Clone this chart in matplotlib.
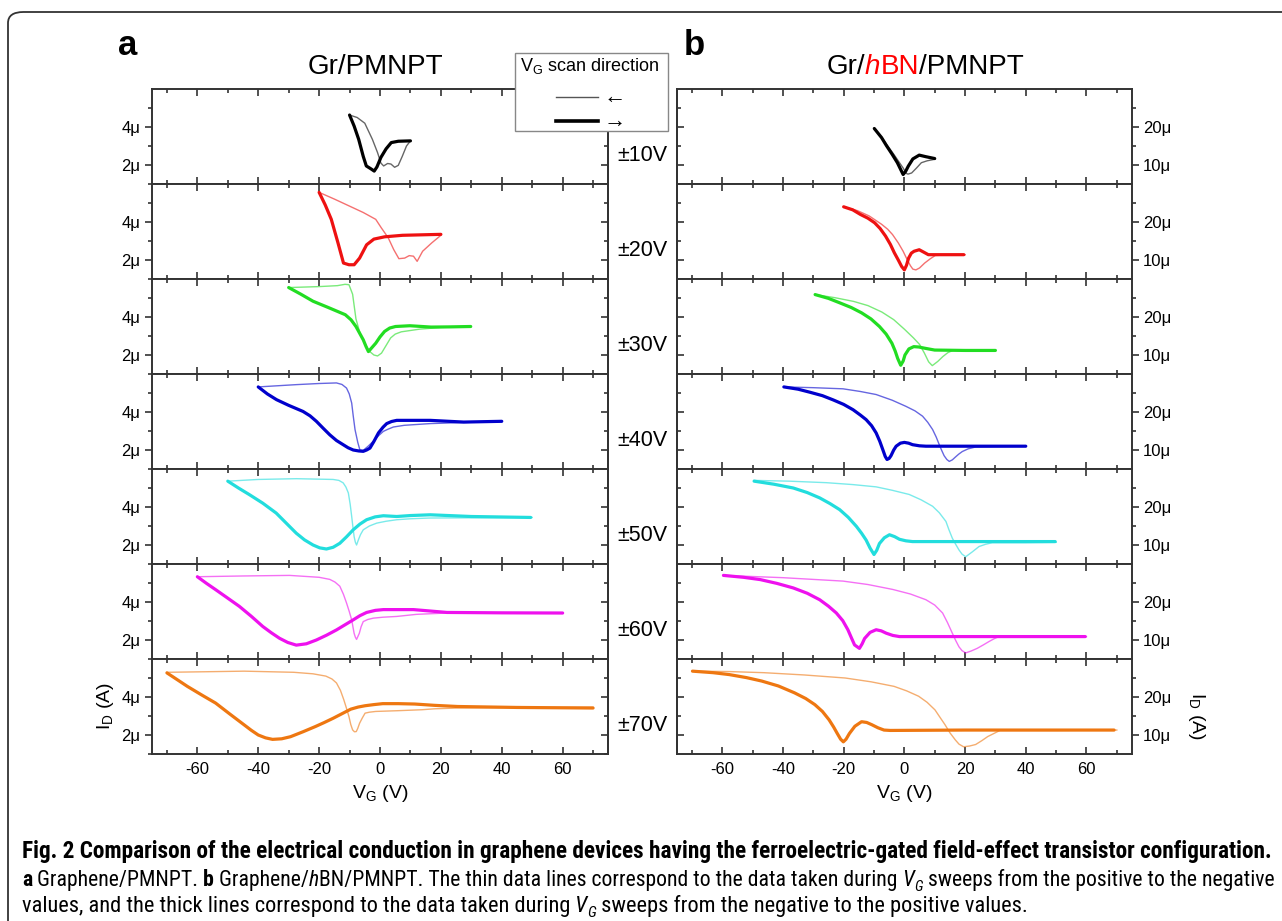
import matplotlib
matplotlib.use('Agg')
import matplotlib.pyplot as plt
from matplotlib import font_manager as fm
from matplotlib.patches import FancyBboxPatch, Rectangle
from matplotlib.lines import Line2D
from matplotlib.ticker import FixedLocator, FuncFormatter

# ---------------- data (V_G in V, I_D in microamps) ----------------
sweep_labels = ['±10V', '±20V', '±30V', '±40V', '±50V', '±60V', '±70V']
sweep_colors = ['#000000', '#ee1111', '#22dd22', '#0000cc', '#22dddd', '#ee11ee', '#ee7711']
x_ticks = [-60, -40, -20, 0, 20, 40, 60]
a_yticks = [2, 4]
b_yticks = [10, 20]

# panel a : Gr/PMNPT  (fwd = thick, negative->positive ; bwd = thin, positive->negative)
a10_fwd = [(-10, 4.63), (-8.5, 4.05), (-7, 3.35), (-5.5, 2.45), (-4.5, 1.95), (-3, 1.8), (-1.9, 1.68), (-1, 1.9),
           (0.3, 2.4), (2, 2.85), (3.7, 3.18), (6, 3.25), (10, 3.27)]
a10_bwd = [(10, 3.27), (8.7, 3.0), (7.3, 2.45), (6, 1.98), (4.8, 1.88), (3.6, 2.05), (2.5, 2.08), (1.2, 1.95),
           (0.3, 2.1), (-0.8, 2.65), (-2.5, 3.35), (-5, 4.2), (-7.5, 4.5), (-10, 4.63)]
a20_fwd = [(-20, 5.56), (-18, 4.9), (-16, 4.14), (-13.8, 2.9), (-12, 1.84), (-10.2, 1.75), (-8.5, 1.75), (-6.7, 2.1),
           (-4.4, 2.8), (-2, 3.1), (1.5, 3.22), (7.4, 3.3), (20, 3.35)]
a20_bwd = [(20, 3.3), (17, 2.9), (14, 2.46), (12.2, 1.93), (11, 2.2), (9.6, 2.23), (8.1, 2.1), (6.2, 2.07), (4.5, 2.55),
           (2.7, 3.17), (0.4, 3.7), (-1.4, 4.14), (-5.5, 4.5), (-10.2, 4.85), (-14.9, 5.2), (-20, 5.56)]
a30_fwd = [(-30, 5.55), (-26, 5.2), (-22, 4.83), (-17, 4.5), (-11.4, 4.12), (-9.5, 3.85), (-7.9, 3.5), (-6.7, 3.15),
           (-5.5, 2.8), (-4.6, 2.45), (-3.8, 2.18), (-2.6, 2.4), (-1.4, 2.62), (0, 2.95), (1.5, 3.24), (3.2, 3.42),
           (5.1, 3.5), (9.8, 3.54), (16.8, 3.47), (23, 3.48), (29.8, 3.5)]
a30_bwd = [(30, 3.5), (20, 3.45), (13, 3.36), (7, 3.22), (5, 3.1), (3.5, 2.9), (2, 2.5), (0.5, 2.1), (-0.8, 1.95),
           (-2, 2.0), (-3.5, 2.2), (-5, 2.6), (-6.5, 3.1), (-7.9, 3.9), (-9, 5.2), (-10.2, 5.7), (-11.5, 5.72),
           (-14, 5.65), (-20, 5.6), (-30, 5.55)]
a40_fwd = [(-40, 5.32), (-37, 4.95), (-34, 4.65), (-30, 4.35), (-25.3, 4.03), (-23, 3.8), (-20.9, 3.51), (-18.7, 3.15),
           (-16.5, 2.8), (-14.3, 2.5), (-12.1, 2.28), (-10.5, 2.12), (-8.8, 2.0), (-7, 1.95), (-5.5, 1.93), (-4.4, 2.0),
           (-3.3, 2.1), (-2, 2.45), (-0.5, 2.9), (1, 3.2), (2.2, 3.39), (3.8, 3.5), (5.5, 3.56), (16.5, 3.56),
           (27.5, 3.47), (40, 3.51)]
a40_bwd = [(40, 3.5), (28, 3.45), (16.5, 3.39), (8, 3.3), (4.4, 3.21), (2.7, 3.1), (1.1, 2.98), (-0.5, 2.75),
           (-2.2, 2.46), (-3.9, 2.2), (-5.5, 1.98), (-6.6, 2.0), (-7.3, 2.4), (-8.2, 3.07), (-8.8, 3.8), (-9.3, 4.47),
           (-10.1, 4.95), (-11, 5.26), (-12.5, 5.45), (-14.3, 5.53), (-20, 5.5), (-27.5, 5.44), (-40, 5.32)]
a50_fwd = [(-50, 5.36), (-46.5, 5.0), (-42.9, 4.65), (-38.5, 4.2), (-34.1, 3.68), (-30.8, 3.15), (-27.5, 2.62),
           (-24.8, 2.27), (-22, 2.0), (-19.8, 1.85), (-17.6, 1.79), (-15.4, 1.88), (-13.2, 2.09), (-11, 2.43),
           (-8.8, 2.8), (-6.6, 3.1), (-4.4, 3.33), (-1.6, 3.48), (1.1, 3.54), (5.5, 3.5), (10, 3.55), (16.5, 3.59),
           (30, 3.5), (49.5, 3.45)]
a50_bwd = [(50, 3.45), (30, 3.43), (16.5, 3.42), (10, 3.38), (5.5, 3.33), (2, 3.25), (-1.1, 3.15), (-3.5, 3.0),
           (-5.5, 2.8), (-6.4, 2.55), (-7.1, 2.27), (-7.7, 2.0), (-8.1, 2.15), (-8.5, 2.44), (-8.9, 2.95), (-9.3, 3.5),
           (-9.8, 4.15), (-10.4, 4.74), (-11.2, 5.05), (-12.1, 5.27), (-13.5, 5.4), (-15.4, 5.45), (-27.5, 5.49),
           (-40, 5.45), (-50, 5.36)]
a60_fwd = [(-60, 5.33), (-57, 4.98), (-54, 4.65), (-50, 4.2), (-46.2, 3.77), (-42.3, 3.25), (-38.5, 2.71),
           (-35.7, 2.38), (-33, 2.09), (-30.3, 1.87), (-27.5, 1.73), (-24.2, 1.8), (-20.9, 2.0), (-17.6, 2.25),
           (-14.3, 2.53), (-11.5, 2.8), (-8.8, 3.06), (-6.6, 3.28), (-4.4, 3.45), (-1.5, 3.56), (1.1, 3.6), (11, 3.6),
           (22, 3.45), (40, 3.43), (60, 3.42)]
a60_bwd = [(60, 3.42), (40, 3.42), (22, 3.42), (12, 3.35), (5.5, 3.24), (1, 3.2), (-2.2, 3.15), (-4, 3.08),
           (-5.5, 2.97), (-6.2, 2.7), (-6.8, 2.35), (-7.7, 2.03), (-8.1, 2.15), (-8.5, 2.35), (-8.9, 2.7), (-9.3, 3.06),
           (-10.1, 3.5), (-11, 3.95), (-12, 4.4), (-13.2, 4.83), (-14.8, 5.05), (-16.5, 5.19), (-20, 5.3),
           (-29.7, 5.4), (-45, 5.37), (-60, 5.33)]
a70_fwd = [(-70, 5.27), (-66.5, 4.9), (-63.3, 4.56), (-58.5, 4.1), (-54, 3.68), (-49.3, 3.1), (-44.6, 2.53),
           (-42.3, 2.25), (-40, 2.0), (-37.6, 1.85), (-35.3, 1.77), (-32.3, 1.8), (-29.4, 1.91), (-25.3, 2.17),
           (-21.3, 2.44), (-18.4, 2.65), (-15.4, 2.88), (-12.5, 3.12), (-9.6, 3.36), (-7.2, 3.47), (-4.9, 3.54),
           (-2, 3.6), (0.9, 3.65), (6, 3.65), (11.4, 3.63), (18, 3.56), (25.5, 3.5), (45, 3.45), (70, 3.42)]
a70_bwd = [(70, 3.46), (45, 3.44), (25.5, 3.42), (18, 3.38), (13.8, 3.33), (6, 3.28), (-1.4, 3.24), (-3.5, 3.2),
           (-4.9, 3.15), (-5.8, 2.9), (-6.7, 2.62), (-7.3, 2.35), (-7.8, 2.18), (-8.4, 2.17), (-9, 2.27), (-9.6, 2.55),
           (-10.2, 2.97), (-11, 3.4), (-11.9, 3.86), (-13, 4.35), (-14.3, 4.74), (-15.8, 4.95), (-17.8, 5.1),
           (-22, 5.22), (-28.3, 5.3), (-44.6, 5.36), (-57, 5.33), (-70, 5.3)]

# panel b : Gr/hBN/PMNPT
b10_fwd = [(-9.9, 19.6), (-7.5, 17.2), (-5.9, 15.1), (-4, 12.8), (-2.3, 10.6), (-1.2, 8.8), (-0.4, 7.5), (0.4, 8.3),
           (1.3, 9.7), (2.8, 11.6), (4.9, 12.6), (7, 12.2), (10, 11.7)]
b10_bwd = [(10, 11.5), (7.5, 11.1), (5.6, 10.6), (4, 9.2), (2.4, 7.9), (1.2, 7.6), (0.6, 7.8), (-0.4, 9.2),
           (-1.6, 10.6), (-3.3, 12.6), (-5.1, 14.6), (-7.5, 17.3), (-9.9, 19.6)]
b20_fwd = [(-20, 24), (-17, 23.2), (-14.5, 22), (-12, 21), (-9.8, 19.8), (-8, 18.3), (-6.2, 16.3), (-4.6, 14.1),
           (-3.3, 11.9), (-2, 10), (-0.9, 8.3), (0, 7.4), (0.7, 8.6), (1.4, 10.5), (2.3, 11.8), (3.2, 12.3),
           (4.9, 12.7), (6.3, 12.1), (7.9, 11.4), (12, 11.4), (19.6, 11.4)]
b20_bwd = [(20, 11.4), (14, 11.3), (10.2, 11.2), (8.5, 10.3), (6.7, 9.2), (5, 7.9), (3.8, 7.4), (2.8, 7.6), (2, 8.5),
           (0.8, 10.3), (-0.4, 12.3), (-2, 14.5), (-3.9, 16.7), (-5.5, 18.1), (-7.5, 19.4), (-11.6, 21.6),
           (-15.5, 23), (-20, 24)]
b30_fwd = [(-29.4, 25.9), (-25, 24.9), (-21.2, 23.7), (-17.5, 22.5), (-14.1, 21.1), (-11, 19.5), (-8.2, 17.5),
           (-6, 15.5), (-4.1, 13.1), (-3, 11), (-2.2, 9.1), (-1.2, 7.3), (-0.4, 8.4), (0.2, 10), (1.5, 11.6),
           (3.1, 12.2), (4.8, 12.1), (6.6, 11.8), (10, 11.3), (20, 11.2), (30, 11.2)]
b30_bwd = [(30, 11.4), (22, 11.3), (16.2, 11.3), (14.3, 10.6), (12.7, 9.6), (11, 8.3), (9.2, 7.2), (8, 8.2),
           (6.6, 10.5), (5, 12.8), (3, 14.5), (0, 16.8), (-3.5, 19.3), (-7.4, 21.3), (-12, 23), (-16.7, 24.1),
           (-23, 25.1), (-29.4, 25.9)]
b40_fwd = [(-39.7, 26.6), (-35, 26), (-31.1, 25.2), (-27, 24.3), (-23.5, 23.2), (-20, 22), (-16.9, 20.6),
           (-14.5, 19.2), (-12.6, 18.0), (-10.8, 16.4), (-9.3, 14.5), (-8.1, 12.3), (-7.1, 10.1), (-6.3, 8.3),
           (-5.7, 7.5), (-5, 7.8), (-4.4, 8.5), (-3.5, 10), (-2.7, 11.0), (-1.3, 11.8), (0, 12.0), (1.4, 11.8),
           (2.7, 11.4), (5, 11.1), (7.1, 11.0), (20, 11.0), (40, 11.0)]
b40_bwd = [(40, 11.0), (30, 10.9), (23.5, 10.8), (21, 10.3), (19.1, 9.6), (17.9, 8.9), (16.9, 8.2), (15.8, 7.4),
           (14.8, 7.0), (14, 7.5), (13.1, 8.5), (12.3, 9.9), (11.5, 11.4), (10.5, 13.4), (9.3, 15.4), (7.7, 17.3),
           (6, 18.9), (3.5, 20.3), (0.5, 21.5), (-4, 23.1), (-9.3, 24.6), (-14.5, 25.4), (-20.2, 26.1), (-30, 26.4),
           (-39.7, 26.6)]
b50_fwd = [(-49.5, 26.8), (-43, 26), (-36.6, 25.0), (-32, 23.8), (-27.9, 22.4), (-24.5, 20.9), (-21.3, 19.3),
           (-18.5, 17.3), (-15.8, 14.9), (-14.1, 13.1), (-12.6, 11.3), (-11.3, 9.2), (-10, 7.5), (-9.1, 8.6),
           (-8.2, 10.4), (-6.6, 11.9), (-4.9, 12.7), (-3.2, 12.2), (-1.6, 11.5), (0.5, 11.1), (2.7, 10.9), (20, 10.9),
           (49.7, 10.9)]
b50_bwd = [(50, 10.7), (40, 10.6), (29, 10.6), (26.8, 10.2), (24.6, 9.6), (22.4, 8.2), (20.2, 6.9), (19, 7.6),
           (18, 8.7), (16.9, 10.2), (15.8, 11.8), (14.7, 14), (13.7, 16.2), (11.5, 18.5), (9.3, 20.2), (5.5, 21.9),
           (1.6, 23.3), (-4, 24.4), (-9.3, 25.3), (-17, 25.9), (-25.7, 26.4), (-38, 26.8), (-49.5, 27.0)]
b60_fwd = [(-59.6, 27.0), (-53, 26.5), (-47.5, 25.9), (-42, 24.9), (-36.6, 23.7), (-32, 22.3), (-27.9, 20.6),
           (-25, 18.9), (-22.4, 17.1), (-20.3, 15.1), (-18.6, 12.7), (-17.4, 10.5), (-16.4, 8.7), (-14.8, 7.8),
           (-13.9, 9), (-13.1, 10.4), (-11.3, 12), (-9.3, 12.7), (-7.6, 12.4), (-6, 11.8), (-3.8, 11.2), (-1.6, 10.9),
           (20, 10.9), (59.6, 10.9)]
b60_bwd = [(60, 10.9), (45, 10.9), (31.1, 10.9), (29.5, 10.3), (27.9, 9.6), (26, 8.7), (24, 7.8), (22, 7.1),
           (20.2, 6.6), (19, 7.2), (18, 8.2), (16.9, 9.9), (15.8, 11.8), (14.2, 14.6), (12.6, 17.1), (10, 19.2),
           (7.1, 20.6), (2, 22.1), (-3.8, 23.3), (-12, 24.6), (-20.2, 25.5), (-40, 26.4), (-59.6, 27.0)]
b70_fwd = [(-69.8, 26.8), (-63, 26.4), (-57.7, 25.9), (-52, 25.1), (-47, 24.2), (-41.5, 22.9), (-36.2, 21.1),
           (-32.5, 19.6), (-29.5, 18), (-27, 16.2), (-24.8, 14), (-23.3, 12.1), (-22.1, 10.4), (-21, 8.9),
           (-20.1, 8.2), (-19.2, 8.9), (-18.1, 10.4), (-16.3, 12.3), (-14.1, 13.5), (-12.4, 13.3), (-10.7, 12.7),
           (-8.7, 11.9), (-6.7, 11.3), (-4.7, 11.2), (20, 11.3), (69.1, 11.3)]
b70_bwd = [(70, 11.3), (50, 11.2), (31.5, 11.2), (29.5, 10.4), (27.5, 9.6), (25.5, 8.5), (23.5, 7.5), (21.5, 7.1),
           (19.5, 6.9), (18, 7.6), (16.8, 8.7), (15, 10.6), (13.4, 12.7), (11.7, 14.7), (10.1, 16.6), (7.5, 18.6),
           (4.7, 20.2), (0.8, 21.6), (-3.4, 22.8), (-11, 24), (-19.5, 25.0), (-33, 25.8), (-46.3, 26.4), (-58, 26.7),
           (-69.8, 26.8)]

panels_a = [(a10_fwd, a10_bwd), (a20_fwd, a20_bwd), (a30_fwd, a30_bwd), (a40_fwd, a40_bwd),
            (a50_fwd, a50_bwd), (a60_fwd, a60_bwd), (a70_fwd, a70_bwd)]
panels_b = [(b10_fwd, b10_bwd), (b20_fwd, b20_bwd), (b30_fwd, b30_bwd), (b40_fwd, b40_bwd),
            (b50_fwd, b50_bwd), (b60_fwd, b60_bwd), (b70_fwd, b70_bwd)]


# ---------------- fonts ----------------
def has_font(name):
    try:
        fm.findfont(fm.FontProperties(family=name), fallback_to_default=False)
        return True
    except Exception:
        return False


SANS = 'Liberation Sans' if has_font('Liberation Sans') else 'DejaVu Sans'


def pick_caption_font():
    names = {f.name for f in fm.fontManager.ttflist}
    for p in ['Liberation Sans Narrow', 'Roboto Condensed', 'Open Sans Condensed', 'Noto Sans Condensed',
              'DejaVu Sans Condensed']:
        if p in names:
            return p, 'normal'
    for fam in ['Open Sans', 'Noto Sans', 'Roboto', 'DejaVu Sans']:
        for f in fm.fontManager.ttflist:
            if f.name == fam and f.stretch == 'condensed':
                return fam, 'condensed'
    return SANS, 'normal'


CAP_FAMILY, CAP_STRETCH = pick_caption_font()

plt.rcParams['font.family'] = [SANS, 'DejaVu Sans']
plt.rcParams['axes.unicode_minus'] = False

# ---------------- layout ----------------
W, H = 1282, 921
fig = plt.figure(figsize=(W / 100, H / 100), dpi=100)
renderer = fig.canvas.get_renderer()


def fx(px):
    return px / W


def fy(py):
    return 1 - py / H


top_px, bot_px = 89, 754
nrows = 7
ph = (bot_px - top_px) / nrows
col_x = [(151.7, 608.3), (676.7, 1132.0)]
SPINE = '#333333'

# outer rounded border
border = FancyBboxPatch((fx(8), fy(960)), fx(1320) - fx(8), fy(12) - fy(960),
                        boxstyle='round,pad=0,rounding_size=0.012', transform=fig.transFigure,
                        facecolor='none', edgecolor='#333333', linewidth=1.3, zorder=0)
fig.patches.append(border)


def mu_fmt(v, pos):
    return '%dμ' % int(round(v))


for c, panels in enumerate([panels_a, panels_b]):
    x0, x1 = col_x[c]
    for r in range(nrows):
        ytop = top_px + r * ph
        ax = fig.add_axes([fx(x0), fy(ytop + ph), fx(x1) - fx(x0), ph / H])
        fwd, bwd = panels[r]
        col = sweep_colors[r]
        bv, bi = zip(*bwd)
        fv, fi = zip(*fwd)
        ax.plot(bv, bi, color=col, lw=1.0, alpha=0.6, solid_joinstyle='round')
        ax.plot(fv, fi, color=col, lw=2.3, solid_joinstyle='round', solid_capstyle='round')
        ax.set_xlim(-75, 75)
        if c == 0:
            ax.set_ylim(1, 6)
            yt, ym = a_yticks, [1, 3, 5]
        else:
            ax.set_ylim(5, 30)
            yt, ym = b_yticks, [15, 25]
        for s in ax.spines.values():
            s.set_color(SPINE)
            s.set_linewidth(1.4)
        ax.set_xticks(x_ticks)
        ax.xaxis.set_minor_locator(FixedLocator(list(range(-70, 71, 10))))
        ax.tick_params(axis='x', which='both', direction='in', top=True, bottom=True,
                       labelbottom=(r == nrows - 1), color=SPINE, width=1.2, labelsize=12, pad=6)
        ax.tick_params(axis='x', which='major', length=5)
        ax.tick_params(axis='x', which='minor', length=3)
        ax.yaxis.set_major_locator(FixedLocator(yt))
        ax.yaxis.set_minor_locator(FixedLocator(ym))
        ax.yaxis.set_major_formatter(FuncFormatter(mu_fmt))
        side = 'left' if c == 0 else 'right'
        other = 'right' if c == 0 else 'left'
        ax.yaxis.set_ticks_position(side)
        ax.tick_params(axis='y', which='both', direction='out', color=SPINE, width=1.2, labelsize=12, pad=3)
        ax.tick_params(axis='y', which='major', length=5)
        ax.tick_params(axis='y', which='minor', length=3)
        sec = ax.secondary_yaxis(other)
        sec.yaxis.set_major_locator(FixedLocator(yt))
        sec.yaxis.set_minor_locator(FixedLocator(ym))
        sec.tick_params(which='both', direction='in', color=SPINE, width=1.2,
                        labelleft=False, labelright=False)
        sec.tick_params(which='major', length=5)
        sec.tick_params(which='minor', length=3)
        sec.spines[other].set_color(SPINE)
        sec.spines[other].set_linewidth(1.4)
        if r == nrows - 1:
            ax.set_xlabel('V$_\\mathregular{G}$ (V)', fontsize=14, labelpad=4)
        if c == 0:
            fig.text(fx(642), fy(ytop + ph * 0.70), sweep_labels[r], ha='center', va='center', fontsize=15.5)

# y labels
fig.text(fx(105), fy(706), 'I$_\\mathregular{D}$ (A)', rotation=90, ha='center', va='center', fontsize=14)
fig.text(fx(1196), fy(716), 'I$_\\mathregular{D}$ (A)', rotation=-90, ha='center', va='center', fontsize=14)

# panel letters and titles
fig.text(fx(118), fy(55), 'a', fontsize=25, fontweight='bold', ha='left', va='baseline')
fig.text(fx(684), fy(55), 'b', fontsize=25, fontweight='bold', ha='left', va='baseline')
fig.text(fx(375), fy(74), 'Gr/PMNPT', fontsize=20, ha='center', va='baseline')

runs = [('Gr/', 'black', 'normal'), ('h', 'red', 'italic'), ('BN', 'red', 'normal'), ('/PMNPT', 'black', 'normal')]
tarts = [fig.text(0, fy(74), t, color=cl, fontstyle=st, fontsize=20, ha='left', va='baseline') for t, cl, st in runs]
widths = [a.get_window_extent(renderer).width for a in tarts]
xcur = 925 - sum(widths) / 2
for a, w in zip(tarts, widths):
    a.set_x(fx(xcur))
    xcur += w

# legend box
fig.patches.append(Rectangle((fx(515), fy(131)), fx(668) - fx(515), fy(53) - fy(131), transform=fig.transFigure,
                             facecolor='white', edgecolor='#888888', linewidth=1.0, zorder=10))
fig.text(fx(520), fy(66), 'V$_\\mathregular{G}$ scan direction', fontsize=13, ha='left', va='center', zorder=11)
fig.lines.append(Line2D([fx(556), fx(598)], [fy(97), fy(97)], transform=fig.transFigure, color='#555555', lw=1.0,
                        zorder=11))
fig.lines.append(Line2D([fx(556), fx(598)], [fy(121), fy(121)], transform=fig.transFigure, color='black', lw=2.6,
                        zorder=11))
fig.text(fx(604), fy(97), '←', fontsize=16, ha='left', va='center', zorder=11, family=[SANS, 'DejaVu Sans'])
fig.text(fx(604), fy(121), '→', fontsize=16, ha='left', va='center', zorder=11, family=[SANS, 'DejaVu Sans'])


# ---------------- caption (runs of regular / bold / italic text) ----------------
def cap_props(kind, size):
    weight = 'bold' if kind == 'B' else 'normal'
    style = 'italic' if kind in ('I', 'S') else 'normal'
    sz = size * (0.68 if kind == 'S' else 1.0)
    return fm.FontProperties(family=CAP_FAMILY, stretch=CAP_STRETCH, weight=weight, style=style, size=sz)


def draw_runs(runs, x_px, base_px, size, target_w=None):
    def build(sz):
        arts = [fig.text(0, 0, t, fontproperties=cap_props(k, sz), ha='left', va='baseline') for t, k in runs]
        ws = [a.get_window_extent(renderer).width for a in arts]
        return arts, ws
    arts, ws = build(size)
    if target_w is not None:
        for a in arts:
            a.remove()
        size = size * target_w / sum(ws)
        arts, ws = build(size)
    x = x_px
    spx = size * 100 / 72
    for a, w, (t, k) in zip(arts, ws, runs):
        dy = 0.22 * spx if k == 'S' else 0
        a.set_position((fx(x), fy(base_px + dy)))
        x += w
    return size


line1 = [('Fig. 2 Comparison of the electrical conduction in graphene devices having the '
          'ferroelectric-gated field-effect transistor configuration.', 'B')]
line2 = [('a', 'B'), (' Graphene/PMNPT.', 'R'), (' b', 'B'), (' Graphene/', 'R'), ('h', 'I'),
         ('BN/PMNPT. The thin data lines correspond to the data taken during', 'R'), (' V', 'I'), ('G', 'S'),
         (' sweeps from the positive to the negative', 'R')]
line3 = [('values, and the thick lines correspond to the data taken during', 'R'), (' V', 'I'), ('G', 'S'),
         (' sweeps from the negative to the positive values.', 'R')]

draw_runs(line1, 22, 858, 14, target_w=1255)
draw_runs(line2, 22, 886, 14, target_w=1260)
draw_runs(line3, 22, 912, 14, target_w=1010)

fig.savefig('out.png', dpi=100)
